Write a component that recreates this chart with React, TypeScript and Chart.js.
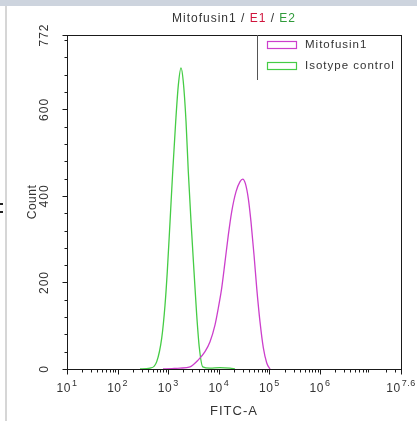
import React, { useEffect, useRef } from "react";
import { Chart, registerables } from "chart.js";

Chart.register(...registerables);

// FITC-A intensity (x) and event count (y) for each histogram
const mitofusinFITC = [789, 1189, 1710, 2698, 3936, 5333, 6699, 8414, 9772, 11400, 13270, 15420, 17990, 21880, 26240, 29650, 33420, 38280, 43250, 49660, 56100, 65160, 75860, 88510, 102800];
const mitofusinCount = [0, 1, 2, 5, 21, 40, 63, 102, 141, 187, 248, 310, 364, 410, 433, 439, 429, 394, 340, 263, 187, 109, 49, 14, 0];

const isotypeFITC = [277, 437, 593, 745, 865, 959, 1086, 1227, 1406, 1585, 1791, 1986, 2249, 2495, 2825, 3236, 3656, 4121, 4808, 6699, 10470, 16600, 20890];
const isotypeCount = [0, 2, 17, 72, 148, 225, 340, 456, 572, 656, 696, 664, 572, 456, 340, 225, 125, 49, 5, 2, 3, 2, 0];

const seriesLabels = ["Mitofusin1", "Isotype control"];
const seriesColors = ["#cc3fcc", "#45cc45"];

const xMin = 10;
const xMax = Math.pow(10, 7.6);
const xTickValues = [10, 100, 1000, 10000, 100000, 1000000, Math.pow(10, 7.6)];
const xTickExponents = ["1", "2", "3", "4", "5", "6", "7.6"];
const yMax = 772;
const yTickValues = [0, 200, 400, 600, 772];
const yMinorStep = 40;

const titleParts = [
  { text: "Mitofusin1 / ", color: "#333333" },
  { text: "E1", color: "#d0143c" },
  { text: " / ", color: "#333333" },
  { text: "E2", color: "#2f9a3a" },
];
const xAxisTitle = "FITC-A";
const yAxisTitle = "Count";

const FONT = "Liberation Sans, Arial, sans-serif";

const axesPlugin = {
  id: "flowAxes",
  beforeDraw(chart: any) {
    const ctx = chart.ctx;
    ctx.save();
    ctx.fillStyle = "#ffffff";
    ctx.fillRect(0, 0, chart.width, chart.height);
    // window chrome
    ctx.fillStyle = "#cdd4de";
    ctx.fillRect(0, 0, chart.width, 6);
    ctx.fillStyle = "#d6d6d6";
    ctx.fillRect(5, 6, 2, chart.height - 6);
    ctx.fillStyle = "#222";
    ctx.fillRect(0, 203, 3, 2);
    ctx.fillRect(0, 211, 3, 2);
    ctx.restore();
  },
  afterDraw(chart: any) {
    const { ctx, chartArea: a, scales } = chart;
    const x = scales.x;
    const y = scales.y;
    ctx.save();
    ctx.strokeStyle = "#1a1a1a";
    ctx.lineWidth = 1;
    ctx.strokeRect(Math.round(a.left) + 0.5, Math.round(a.top) + 0.5, Math.round(a.right - a.left), Math.round(a.bottom - a.top));

    // x ticks
    ctx.beginPath();
    const bottom = Math.round(a.bottom) + 0.5;
    xTickValues.forEach((v) => {
      const px = Math.round(x.getPixelForValue(v)) + 0.5;
      ctx.moveTo(px, bottom);
      ctx.lineTo(px, bottom + 5);
    });
    for (let n = 1; n <= 7; n++) {
      for (let k = 2; k <= 9; k++) {
        const v = k * Math.pow(10, n);
        if (v >= xMax) continue;
        const px = Math.round(x.getPixelForValue(v)) + 0.5;
        ctx.moveTo(px, bottom);
        ctx.lineTo(px, bottom + 3);
      }
    }
    // y ticks
    const left = Math.round(a.left) + 0.5;
    yTickValues.forEach((v) => {
      const py = Math.round(y.getPixelForValue(v)) + 0.5;
      ctx.moveTo(left, py);
      ctx.lineTo(left - 5, py);
    });
    for (let v = yMinorStep; v < yMax; v += yMinorStep) {
      if (v % 200 === 0) continue;
      const py = Math.round(y.getPixelForValue(v)) + 0.5;
      ctx.moveTo(left, py);
      ctx.lineTo(left - 3, py);
    }
    ctx.stroke();

    // x tick labels
    ctx.fillStyle = "#333";
    ctx.textBaseline = "alphabetic";
    ctx.letterSpacing = "0.5px";
    xTickValues.forEach((v, i) => {
      const px = x.getPixelForValue(v);
      ctx.font = "12px " + FONT;
      const w1 = ctx.measureText("10").width;
      ctx.font = "9px " + FONT;
      const w2 = ctx.measureText(xTickExponents[i]).width;
      const start = px - (w1 + 1 + w2) / 2;
      ctx.font = "12px " + FONT;
      ctx.textAlign = "left";
      ctx.fillText("10", start, 392);
      ctx.font = "9px " + FONT;
      ctx.fillText(xTickExponents[i], start + w1 + 1, 386);
    });

    // y tick labels (rotated)
    ctx.font = "12px " + FONT;
    ctx.letterSpacing = "1px";
    ctx.textAlign = "center";
    ctx.textBaseline = "middle";
    yTickValues.forEach((v) => {
      const py = y.getPixelForValue(v);
      ctx.save();
      ctx.translate(45, py);
      ctx.rotate(-Math.PI / 2);
      ctx.fillText(String(v), 0, 0);
      ctx.restore();
    });

    // axis titles
    ctx.letterSpacing = "0.5px";
    ctx.font = "12px " + FONT;
    ctx.save();
    ctx.translate(33, (a.top + a.bottom) / 2);
    ctx.rotate(-Math.PI / 2);
    ctx.fillText(yAxisTitle, 0, 0);
    ctx.restore();
    ctx.font = "13px " + FONT;
    ctx.letterSpacing = "1px";
    ctx.fillText(xAxisTitle, (a.left + a.right) / 2, 411);

    // chart title (multi-coloured)
    ctx.font = "12px " + FONT;
    ctx.letterSpacing = "1px";
    ctx.textAlign = "left";
    ctx.textBaseline = "middle";
    const widths = titleParts.map((p) => ctx.measureText(p.text).width);
    const total = widths.reduce((s, w) => s + w, 0);
    let tx = (a.left + a.right) / 2 - total / 2;
    titleParts.forEach((p, i) => {
      ctx.fillStyle = p.color;
      ctx.fillText(p.text, tx, 19);
      tx += widths[i];
    });

    // legend
    ctx.strokeStyle = "#555";
    ctx.lineWidth = 1;
    ctx.beginPath();
    ctx.moveTo(257.5, Math.round(a.top));
    ctx.lineTo(257.5, 80);
    ctx.stroke();
    chart.data.datasets.forEach((ds: any, i: number) => {
      const yy = 45 + i * 21;
      ctx.strokeStyle = ds.borderColor;
      ctx.lineWidth = 1.2;
      ctx.strokeRect(267.5, yy - 3.5, 29, 7);
      ctx.fillStyle = "#333";
      ctx.font = "11.5px " + FONT;
      ctx.letterSpacing = "1px";
      ctx.textBaseline = "middle";
      ctx.fillText(ds.label, 305, yy);
    });
    ctx.restore();
  },
};

export default function App() {
  const ref = useRef<HTMLCanvasElement>(null);
  useEffect(() => {
    if (!ref.current) return;
    const chart = new Chart(ref.current, {
      type: "scatter",
      data: {
        datasets: [
          {
            label: seriesLabels[0],
            data: mitofusinFITC.map((v, i) => ({ x: v, y: mitofusinCount[i] })),
            borderColor: seriesColors[0],
            backgroundColor: seriesColors[0],
            showLine: true,
            pointRadius: 0,
            borderWidth: 1.3,
            cubicInterpolationMode: "monotone",
          },
          {
            label: seriesLabels[1],
            data: isotypeFITC.map((v, i) => ({ x: v, y: isotypeCount[i] })),
            borderColor: seriesColors[1],
            backgroundColor: seriesColors[1],
            showLine: true,
            pointRadius: 0,
            borderWidth: 1.3,
            cubicInterpolationMode: "monotone",
          },
        ],
      },
      options: {
        responsive: false,
        animation: false,
        devicePixelRatio: 1,
        layout: { padding: { left: 67, top: 35, right: 16, bottom: 52 } },
        plugins: {
          legend: { display: false },
          tooltip: { enabled: false },
          title: { display: false },
        },
        scales: {
          x: { type: "logarithmic", min: xMin, max: xMax, display: false },
          y: { type: "linear", min: 0, max: yMax, display: false },
        },
      },
      plugins: [axesPlugin],
    });
    return () => chart.destroy();
  }, []);
  return (
    <div style={{ position: "absolute", left: 0, top: 0, width: 417, height: 421 }}>
      <canvas ref={ref} width={417} height={421} style={{ display: "block", width: 417, height: 421 }} />
    </div>
  );
}
